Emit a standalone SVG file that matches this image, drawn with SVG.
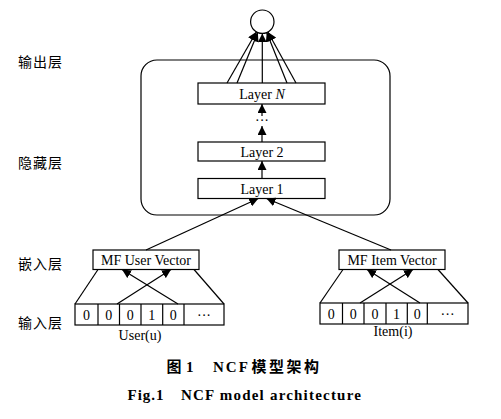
<svg xmlns="http://www.w3.org/2000/svg" width="501" height="419" viewBox="0 0 501 419">
<style>
.ln{stroke:#000;stroke-width:1.2;fill:none}
.bx{stroke:#000;stroke-width:1.2;fill:#fff}
.t{font-family:"Liberation Serif","Times New Roman",serif;font-size:14px;fill:#000;text-anchor:middle}
.zh{font-family:"Noto Sans CJK SC",sans-serif;font-size:14px;fill:#000;letter-spacing:1px}
.cap{font-family:"Liberation Serif","Noto Sans CJK SC",serif;font-size:15px;font-weight:bold;fill:#000}
</style>
<defs>
<marker id="ah" viewBox="0 0 10 10" refX="10" refY="5" markerWidth="9" markerHeight="9" markerUnits="userSpaceOnUse" orient="auto">
<path d="M0,0 L10,5 L0,10 z" fill="#000"/>
</marker>
</defs>
<rect width="501" height="419" fill="#fff"/>
<g id="layer-labels">
<text class="zh" x="18" y="67">输出层</text>
<text class="zh" x="18" y="168">隐藏层</text>
<text class="zh" x="18" y="269">嵌入层</text>
<text class="zh" x="18" y="328">输入层</text>
</g>
<g id="hidden-container"><rect class="ln" x="141" y="60" width="249" height="155" rx="16"/></g>
<g id="output"><circle class="bx" cx="262.3" cy="21.7" r="11.7"/></g>
<g id="layerN"><rect class="bx" x="198" y="83" width="127" height="21"/><text class="t" x="262" y="99">Layer <tspan font-style="italic">N</tspan></text></g>
<g id="dots"><text class="t" x="262" y="125">···</text></g>
<g id="layer2"><rect class="bx" x="198" y="142" width="127" height="19"/><text class="t" x="262" y="156.5">Layer 2</text></g>
<g id="layer1"><rect class="bx" x="198" y="178.5" width="127" height="20"/><text class="t" x="262" y="193.5">Layer 1</text></g>
<g id="mf-user"><rect class="bx" x="93" y="250" width="106" height="19.5"/><text class="t" x="146" y="265">MF User Vector</text></g>
<g id="mf-item"><rect class="bx" x="339" y="250" width="106" height="19.5"/><text class="t" x="392" y="265">MF Item Vector</text></g>
<g id="user-input">
<rect class="bx" x="75" y="304" width="149" height="21"/>
<path class="ln" d="M98,304V325M119.5,304V325M141,304V325M162.7,304V325M184,304V325"/>
<text class="t" x="86.5" y="319.5">0</text><text class="t" x="108.8" y="319.5">0</text><text class="t" x="130.2" y="319.5">0</text><text class="t" x="151.8" y="319.5">1</text><text class="t" x="173.3" y="319.5">0</text><text class="t" x="204" y="319.5">···</text>
<text class="t" x="140" y="340">User(u)</text>
</g>
<g id="item-input">
<rect class="bx" x="320" y="303" width="148" height="21"/>
<path class="ln" d="M342.5,303V324M364,303V324M386,303V324M407.3,303V324M427.3,303V324"/>
<text class="t" x="331.2" y="318.5">0</text><text class="t" x="353.2" y="318.5">0</text><text class="t" x="375" y="318.5">0</text><text class="t" x="396.6" y="318.5">1</text><text class="t" x="417.3" y="318.5">0</text><text class="t" x="447.6" y="318.5">···</text>
<text class="t" x="393" y="336">Item(i)</text>
</g>
<g id="connectors">
<line class="ln" x1="227" y1="83" x2="256.5" y2="31.8" marker-end="url(#ah)"/>
<line class="ln" x1="237" y1="83" x2="257.8" y2="32.5" marker-end="url(#ah)"/>
<line class="ln" x1="262.3" y1="83" x2="262.3" y2="33.4" marker-end="url(#ah)"/>
<line class="ln" x1="287" y1="83" x2="266.7" y2="32.5" marker-end="url(#ah)"/>
<line class="ln" x1="296" y1="83" x2="267.9" y2="32" marker-end="url(#ah)"/>
<line class="ln" x1="262" y1="116" x2="262" y2="104" marker-end="url(#ah)"/>
<line class="ln" x1="262" y1="142" x2="262" y2="126" marker-end="url(#ah)"/>
<line class="ln" x1="262" y1="178.5" x2="262" y2="161" marker-end="url(#ah)"/>
<line class="ln" x1="146" y1="250" x2="258.3" y2="198.5" marker-end="url(#ah)"/>
<line class="ln" x1="391" y1="250" x2="266.5" y2="198.5" marker-end="url(#ah)"/>
<line class="ln" x1="75" y1="304" x2="98" y2="269.5"/>
<line class="ln" x1="224" y1="304" x2="194" y2="269.5"/>
<line class="ln" x1="117" y1="304" x2="171" y2="269.5" marker-end="url(#ah)"/>
<line class="ln" x1="178" y1="304" x2="122" y2="269.5" marker-end="url(#ah)"/>
<line class="ln" x1="320" y1="303" x2="343" y2="269.5"/>
<line class="ln" x1="468" y1="303" x2="438" y2="269.5"/>
<line class="ln" x1="360" y1="303" x2="413" y2="269.5" marker-end="url(#ah)"/>
<line class="ln" x1="420" y1="303" x2="367" y2="269.5" marker-end="url(#ah)"/>
</g>
<g id="caption">
<text class="cap" x="166.5" y="371.5" style="font-family:'Noto Sans CJK SC',sans-serif;font-size:15px">图</text>
<text class="cap" x="186" y="371.5">1</text>
<text class="cap" x="213" y="371.5" letter-spacing="2">NCF</text>
<text class="cap" x="251.5" y="371.5" letter-spacing="2.5" style="font-family:'Noto Sans CJK SC',sans-serif;font-size:15px">模型架构</text>
<text class="cap" x="127.5" y="400" letter-spacing="1">Fig.1</text>
<text class="cap" x="181" y="400" letter-spacing="1.2">NCF model architecture</text>
</g>
</svg>
